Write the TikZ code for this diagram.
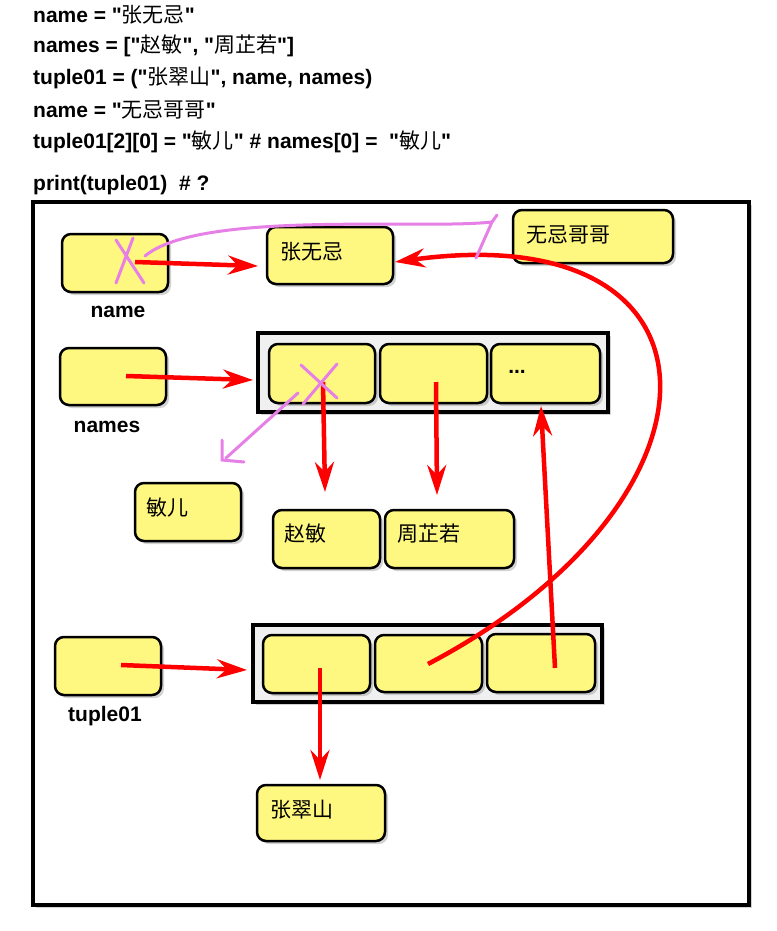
\documentclass[tikz,border=0pt]{standalone}
\usepackage{fontspec}
\defaultfontfeatures{}
\defaultfontfeatures[\rmfamily]{}
\setmainfont{Liberation Sans}
\newfontfamily\cjk{Noto Sans CJK SC}
\newcommand\qq{\char34\relax}
\usetikzlibrary{shadows,arrows.meta}
\begin{document}
\begin{tikzpicture}[x=1pt,y=-1pt,
  cell/.style={draw=black,line width=2.5pt,fill=yellow!50,rounded corners=9pt,drop shadow={opacity=0.35,shadow xshift=3pt,shadow yshift=-3pt}},
  frame/.style={draw=black,line width=4pt,fill=gray!12,drop shadow={opacity=0.35,shadow xshift=3pt,shadow yshift=-3pt}},
  code/.style={anchor=west,font=\bfseries\fontsize{21}{24}\selectfont,inner sep=0pt},
  lab/.style={font=\bfseries\fontsize{21}{24}\selectfont,inner sep=0pt},
  ctext/.style={anchor=west,font=\cjk\fontsize{21}{24}\selectfont,inner sep=0pt},
  ref/.style={draw=red,line width=4.5pt,-{Stealth[length=30pt,width=19pt]}},
  pk/.style={draw=violet!40!magenta!50,line width=3pt,line cap=round}]
\useasboundingbox (0,0) rectangle (776,931);
\node[code] (c1) at (33,15) {name = \qq{\cjk\mdseries 张无忌}\qq};
\node[code] (c2) at (33,46) {names = [\qq{\cjk\mdseries 赵敏}\qq, \qq{\cjk\mdseries 周芷若}\qq]};
\node[code] (c3) at (33,78) {tuple01 = (\qq{\cjk\mdseries 张翠山}\qq, name, names)};
\node[code] (c4) at (33,110) {name = \qq{\cjk\mdseries 无忌哥哥}\qq};
\node[code] (c5) at (33,142) {tuple01[2][0] = \qq{\cjk\mdseries 敏儿}\qq{} \# names[0] =~ \qq{\cjk\mdseries 敏儿}\qq};
\node[code] (c6) at (33,185) {print(tuple01)~ \# ?};
\draw[draw=black,line width=4pt,fill=white,drop shadow={opacity=0.35,shadow xshift=3pt,shadow yshift=-3pt}] (33,202) rectangle (749,905);
% boxes
\path[cell] (62,234) rectangle (168,292);
\path[cell] (267,227) rectangle (393,284);
\node[ctext] (zwj) at (280,252) {张无忌};
\path[cell] (513,210) rectangle (673,263);
\node[ctext] (wjgg) at (526,235) {无忌哥哥};
\node[lab] (lname) at (118,312) {name};
\path[cell] (60,348) rectangle (166,405);
\node[lab] (lnames) at (107,427) {names};
\path[frame] (258,333) rectangle (608,412);
\path[cell] (269,344) rectangle (375,403);
\path[cell] (380,344) rectangle (487,403);
\path[cell] (491,344) rectangle (600,403);
\node[lab] (dots) at (517,372) {...};
\path[cell] (135,483) rectangle (241,541);
\node[ctext] (mer) at (146,508) {敏儿};
\path[cell] (273,510) rectangle (380,568);
\node[ctext] (zm) at (284,534) {赵敏};
\path[cell] (385,510) rectangle (514,568);
\node[ctext] (zzr) at (397,534) {周芷若};
\path[cell] (55,637) rectangle (161,695);
\node[lab] (ltup) at (105,716) {tuple01};
\path[frame] (253,625) rectangle (602,702);
\path[cell] (263,635) rectangle (370,693);
\path[cell] (375,635) rectangle (482,692);
\path[cell] (487,634) rectangle (595,692);
\path[cell] (257,785) rectangle (385,841);
\node[ctext] (zcs) at (270,810) {张翠山};
% red arrows
\coordinate (a1) at (135,262); \coordinate (a1e) at (258,266);
\draw[ref] (a1) -- (a1e);
\coordinate (a2) at (126,376); \coordinate (a2e) at (253,380);
\draw[ref] (a2) -- (a2e);
\coordinate (a3) at (323,382); \coordinate (a3e) at (325,492);
\draw[ref] (a3) -- (a3e);
\coordinate (a4) at (436,382); \coordinate (a4e) at (437,495);
\draw[ref] (a4) -- (a4e);
\coordinate (a5) at (121,665); \coordinate (a5e) at (247,670);
\draw[ref] (a5) -- (a5e);
\coordinate (a6) at (320,668); \coordinate (a6e) at (320,780);
\draw[ref] (a6) -- (a6e);
\coordinate (a7) at (555,668); \coordinate (a7e) at (541,406);
\draw[ref] (a7) -- (a7e);
\coordinate (a8) at (428,664); \coordinate (a8e) at (395,262);
\draw[ref] (a8) .. controls (740,500) and (740,215) .. (a8e);
% pink
\draw[pk] (145,256) .. controls (200,210) and (420,230) .. (492,222) -- (497,215);
\draw[pk] (492,222) -- (476,258);
\draw[pk] (116,240) -- (144,283);
\draw[pk] (133,238) -- (116,283);
\draw[pk] (301,365) -- (337,398);
\draw[pk] (337,364) -- (303,404);
\draw[pk] (298,393) -- (226,458);
\draw[pk] (222,440) -- (222,460) -- (244,462);
\end{tikzpicture}
\end{document}
